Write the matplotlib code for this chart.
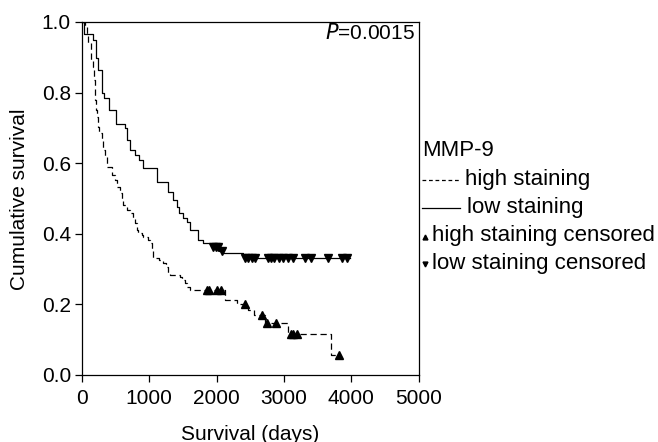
import numpy as np
import matplotlib
matplotlib.use("Agg")
import matplotlib.pyplot as plt
from matplotlib.lines import Line2D

plt.rcParams['font.family'] = ['Liberation Sans', 'DejaVu Sans']

# ---- data ----
high_times = [0, 40, 70, 94, 134, 159, 178, 193, 208, 227, 242, 257, 293, 317, 342, 367,
              450, 490, 515, 565, 590, 614, 664, 713, 762, 788, 813, 837, 887, 911, 985,
              1011, 1036, 1060, 1150, 1209, 1248, 1282, 1308, 1456, 1481, 1530, 1565,
              1605, 2125, 2300, 2470, 2560, 2720, 3066, 3700]
high_surv = [1.0, 0.985, 0.968, 0.940, 0.892, 0.873, 0.836, 0.779, 0.751, 0.732, 0.703,
             0.685, 0.666, 0.637, 0.618, 0.590, 0.567, 0.552, 0.533, 0.515, 0.496, 0.482,
             0.467, 0.458, 0.444, 0.430, 0.411, 0.401, 0.397, 0.392, 0.382, 0.373, 0.354,
             0.331, 0.326, 0.316, 0.307, 0.288, 0.283, 0.278, 0.269, 0.260, 0.250, 0.241,
             0.212, 0.201, 0.184, 0.170, 0.146, 0.116, 0.058]
high_end = 3823
high_censored = [1850, 1890, 2010, 2070, 2420, 2670, 2745, 2890, 3100, 3140, 3190, 3823]

low_times = [0, 30, 168, 208, 242, 293, 327, 406, 505, 639, 664, 713, 788, 851, 902,
             1119, 1282, 1357, 1407, 1446, 1505, 1556, 1605, 1728, 1802, 1942, 2030,
             2080, 2397]
low_surv = [1.0, 0.966, 0.949, 0.898, 0.864, 0.799, 0.785, 0.751, 0.711, 0.700, 0.666,
            0.637, 0.623, 0.609, 0.586, 0.547, 0.518, 0.496, 0.477, 0.459, 0.445, 0.434,
            0.411, 0.382, 0.374, 0.362, 0.352, 0.345, 0.331]
low_end = 3980
low_censored = [1950, 1990, 2025, 2076, 2420, 2470, 2520, 2570, 2760, 2810, 2860, 2920,
                2990, 3060, 3130, 3320, 3400, 3660, 3870, 3940]

x_ticks = [0, 1000, 2000, 3000, 4000, 5000]
y_ticks = [0.0, 0.2, 0.4, 0.6, 0.8, 1.0]
p_text = "=0.0015"


def surv_at(times, surv, t):
    times = np.asarray(times)
    surv = np.asarray(surv)
    idx = np.searchsorted(times, t, side='right') - 1
    return surv[idx]


W, H = 658, 442
fig = plt.figure(figsize=(W / 100, H / 100), dpi=100)
ax = fig.add_axes([82 / W, 1 - 375 / H, (418.5 - 82) / W, (375 - 22) / H])

FS = 15
LFS = 16
lw = 0.9

ht = list(high_times) + [high_end]
hs = list(high_surv) + [high_surv[-1]]
ax.step(ht, hs, where='post', color='black', lw=lw, linestyle=(0, (5, 3)))
lt = list(low_times) + [low_end]
ls = list(low_surv) + [low_surv[-1]]
ax.step(lt, ls, where='post', color='black', lw=lw, linestyle='-')

hc = np.array(high_censored)
ax.plot(hc, surv_at(high_times, high_surv, hc), linestyle='none', marker='^',
        color='black', ms=5.5, mec='black')
lc = np.array(low_censored)
ax.plot(lc, surv_at(low_times, low_surv, lc), linestyle='none', marker='v',
        color='black', ms=5.5, mec='black')

ax.set_xlim(0, 5000)
ax.set_ylim(0, 1.0)
ax.set_xticks(x_ticks)
ax.set_xticklabels([str(v) for v in x_ticks])
ax.set_yticks(y_ticks)
ax.set_yticklabels([f"{v:.1f}" for v in y_ticks])
ax.tick_params(direction='out', length=5, width=0.9, labelsize=FS, pad=3, colors='black')
ax.tick_params(axis='x', pad=5)
for s in ax.spines.values():
    s.set_linewidth(0.9)

ax.text(0.99, 0.997, r"$\it{P}$" + p_text, transform=ax.transAxes, ha='right', va='top',
        fontsize=FS)

fig.text(20 / W, 1 - 199 / H, "Cumulative survival", rotation=90, ha='center',
         va='center', fontsize=FS)
fig.text(250 / W, 1 - 434 / H, "Survival (days)", ha='center', va='center', fontsize=FS)

# ---- legend (manual) ----
def px(x, y):
    return x / W, 1 - y / H

fig.text(*px(422, 151), "MMP-9", ha='left', va='center', fontsize=LFS)
x0, y0 = px(422, 180)
x1, _ = px(461, 180)
fig.add_artist(Line2D([x0, x1], [y0, y0], transform=fig.transFigure, color='black',
                      lw=lw, linestyle=(0, (3, 2.2))))
fig.text(*px(465, 180), "high staining", ha='left', va='center', fontsize=LFS)
x0, y0 = px(422, 208)
x1, _ = px(460, 208)
fig.add_artist(Line2D([x0, x1], [y0, y0], transform=fig.transFigure, color='black', lw=lw))
fig.text(*px(467, 208), "low staining", ha='left', va='center', fontsize=LFS)
mx, my = px(424.5, 237)
fig.add_artist(Line2D([mx], [my], transform=fig.transFigure, color='black', marker='^',
                      ms=3.5, linestyle='none'))
fig.text(*px(432, 236), "high staining censored", ha='left', va='center', fontsize=LFS)
mx, my = px(424.5, 264)
fig.add_artist(Line2D([mx], [my], transform=fig.transFigure, color='black', marker='v',
                      ms=3.5, linestyle='none'))
fig.text(*px(432, 264), "low staining censored", ha='left', va='center', fontsize=LFS)

fig.savefig("out.png", dpi=100)
